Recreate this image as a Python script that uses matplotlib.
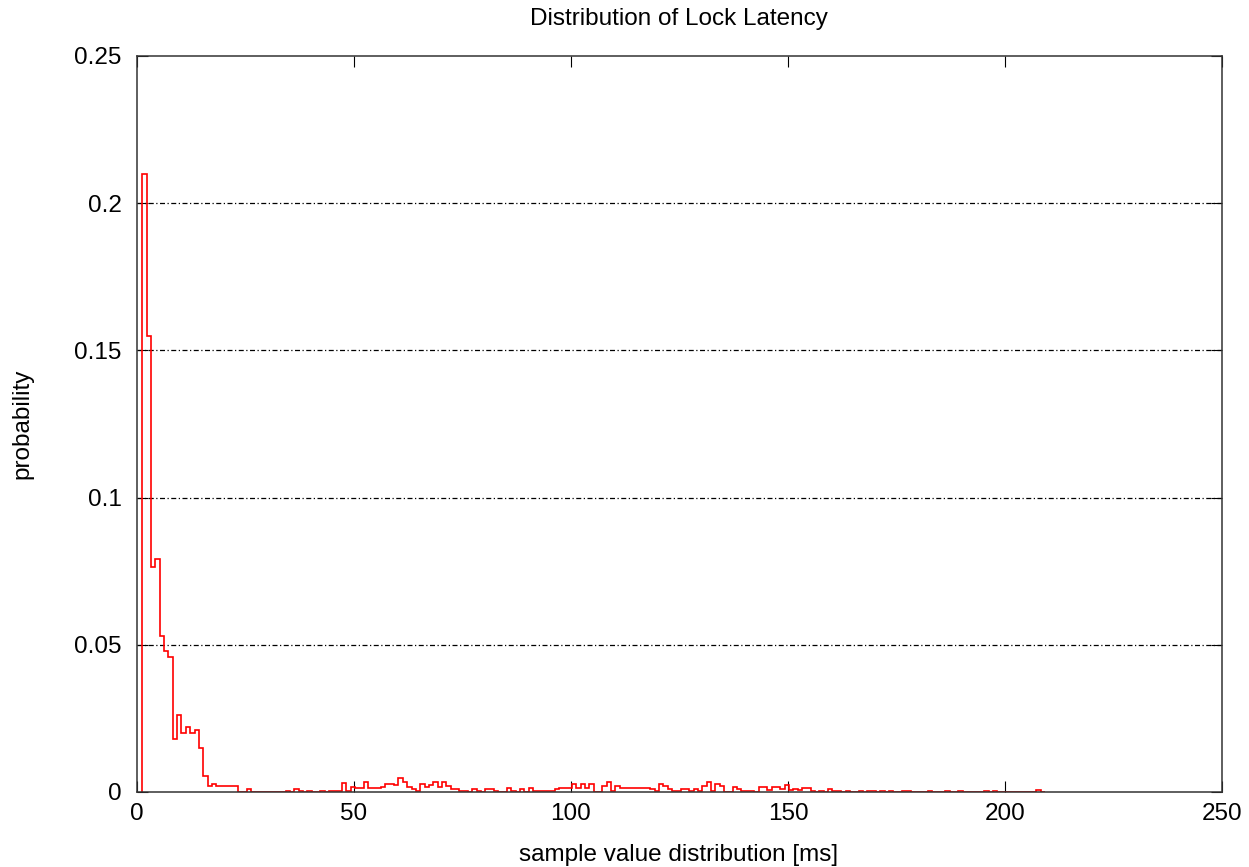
import matplotlib

matplotlib.use("Agg")
import matplotlib.pyplot as plt
import numpy as np

plt.rcParams["font.family"] = ["Liberation Sans", "DejaVu Sans"]

# probability per 1 ms latency bin, first bin starts just above 1 ms
head_prob = [
    0.210, 0.155, 0.0765, 0.079, 0.053, 0.048, 0.046, 0.018, 0.026, 0.020,
    0.022, 0.020, 0.021, 0.015, 0.0053, 0.002, 0.0028, 0.002, 0.002, 0.002,
    0.002, 0.002,
]

tail_prob = [
    0, 0, 0.0011, 0, 0, 0, 0, 0, 0, 0,
    0, 0.0004, 0, 0.0011, 0.0004, 0, 0.0004, 0, 0, 0.0004,
    0, 0.0003, 0.0003, 0.0003, 0.0030, 0.0003, 0.0018, 0.0015, 0.0015, 0.0035,
    0.0015, 0.0012, 0.0013, 0.0016, 0.0026, 0.0028, 0.0024, 0.0049, 0.0035, 0.0017,
    0.0009, 0.0003, 0.0028, 0.0018, 0.0025, 0.0035, 0.0018, 0.0035, 0.0020, 0.0010,
    0.0010, 0.0002, 0.0002, 0, 0.0010, 0.0002, 0, 0.0010, 0.0010, 0.0002,
    0, 0, 0.0015, 0.0002, 0, 0.0010, 0, 0.0015, 0.0002, 0.0002,
    0.0002, 0.0002, 0.0002, 0.0010, 0.0015, 0.0015, 0.0015, 0.0026, 0.0015, 0.0026,
    0.0015, 0.0026, 0, 0, 0.0022, 0.0035, 0.0002, 0.0019, 0.0015, 0.0015,
    0.0015, 0.0015, 0.0015, 0.0015, 0.0015, 0.0010, 0.0002, 0.0028, 0.0022, 0.0010,
    0.0002, 0.0002, 0.0010, 0.0010, 0.0002, 0.0010, 0.0002, 0.0019, 0.0035, 0.0002,
    0.0028, 0.0019, 0, 0, 0.0017, 0.0010, 0.0003, 0.0003, 0.0003, 0,
    0.0017, 0.0017, 0.0008, 0.0017, 0.0017, 0.0010, 0.0025, 0.0006, 0.0011, 0.0006,
    0.0015, 0.0015, 0.0004, 0, 0.0004, 0, 0.0010, 0.0003, 0.0004, 0,
    0.0004, 0, 0, 0.0004, 0, 0.0004, 0.0004, 0, 0.0004, 0,
    0.0004, 0, 0, 0.0004, 0.0004, 0, 0, 0, 0, 0.0004,
    0, 0, 0, 0.0004, 0, 0, 0.0004, 0, 0, 0,
    0, 0, 0.0004, 0, 0.0004, 0, 0, 0, 0, 0,
    0, 0, 0, 0, 0.0006, 0,
]

x_ticks = [0, 50, 100, 150, 200, 250]
y_ticks = [0, 0.05, 0.1, 0.15, 0.2, 0.25]
y_tick_labels = ["0", "0.05", "0.1", "0.15", "0.2", "0.25"]


def main() -> None:
    prob = np.array(head_prob + tail_prob)
    bin_start = 1.25
    edges = bin_start + np.arange(len(prob) + 1)

    fig = plt.figure(figsize=(12.49, 8.67), dpi=100)
    ax = fig.add_axes([137 / 1249, 75 / 867, 1085 / 1249, 736 / 867])

    for y in y_ticks[1:-1]:
        ax.axhline(y, color="black", lw=0.9, linestyle=(0, (4, 2, 1, 2)), zorder=1)

    ax.stairs(prob, edges, baseline=0, color="#ff0000", lw=1.2, zorder=2)

    ax.set_xlim(0, 250)
    ax.set_ylim(0, 0.25)
    ax.set_xticks(x_ticks)
    ax.set_yticks(y_ticks)
    ax.set_yticklabels(y_tick_labels)

    ax.tick_params(
        direction="in", length=8, width=0.8, top=True, right=True,
        labelsize=17.5, colors="black",
    )
    ax.tick_params(axis="x", pad=8)
    ax.tick_params(axis="y", pad=11)

    for spine in ax.spines.values():
        spine.set_linewidth(1.1)
        spine.set_color("#333333")
        spine.set_zorder(3)

    fig.text(679 / 1249, 1 - 19 / 867, "Distribution of Lock Latency",
             ha="center", va="center", fontsize=17.5)
    fig.text(679 / 1249, 1 - 855 / 867, "sample value distribution [ms]",
             ha="center", va="center", fontsize=17.5)
    fig.text(22 / 1249, 1 - 424 / 867, "probability", rotation=90,
             ha="center", va="center", fontsize=17.5)

    fig.savefig("out.png", dpi=100)
    plt.close(fig)


if __name__ == "__main__":
    main()
